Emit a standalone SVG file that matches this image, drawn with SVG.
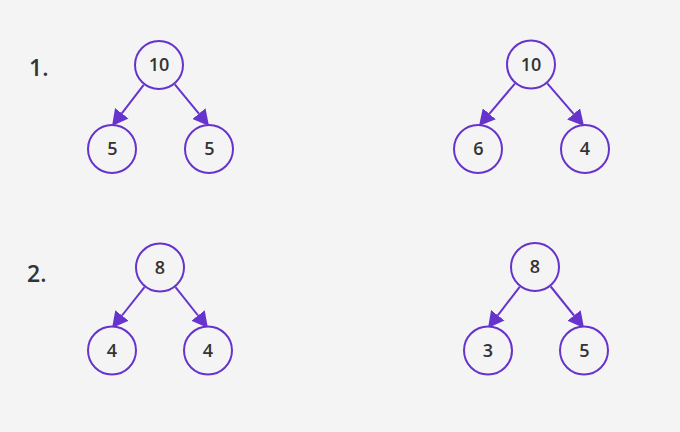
<svg xmlns="http://www.w3.org/2000/svg" width="680" height="432" viewBox="0 0 680 432">
<style>
.node circle{fill:#f4f4f4;stroke:#6633cc;stroke-width:2}
.node text{font-family:"Open Sans","Liberation Sans",sans-serif;font-weight:600;font-size:18px;fill:#333;text-anchor:middle}
.lbl{font-family:"Open Sans","Liberation Sans",sans-serif;font-weight:600;font-size:23px;fill:#333}
.edge{stroke:#6633cc;stroke-width:2;fill:none;marker-end:url(#ah)}
</style>
<defs>
<marker id="ah" markerUnits="userSpaceOnUse" viewBox="0 -8.5 16 17" refX="0" refY="0" markerWidth="16" markerHeight="17" orient="auto">
<path d="M0,-8.5 L16,0 L0,8.5 z" fill="#6633cc"/>
</marker>
</defs>
<rect width="680" height="432" fill="#f4f4f4"/>
<text class="lbl" x="29" y="76">1.</text>
<text class="lbl" x="27" y="281.5">2.</text>
<g id="connectors">
<line class="edge" x1="143.7" y1="84.8" x2="121.8" y2="113.3"/>
<line class="edge" x1="174.8" y1="84.3" x2="198.9" y2="113.6"/>
<line class="edge" x1="514.9" y1="83.6" x2="489.3" y2="113.8"/>
<line class="edge" x1="547.3" y1="83.4" x2="573.6" y2="113.9"/>
<line class="edge" x1="144.5" y1="287.1" x2="122" y2="315.5"/>
<line class="edge" x1="175.5" y1="287.1" x2="198" y2="315.5"/>
<line class="edge" x1="519.7" y1="286.8" x2="497.8" y2="315.3"/>
<line class="edge" x1="550.7" y1="286.5" x2="574" y2="315.5"/>
</g>
<g id="a-root" class="node"><circle cx="159" cy="65" r="24"/><text x="159" y="71">10</text></g>
<g id="a-left" class="node"><circle cx="112" cy="149" r="24"/><text x="112.5" y="154.5">5</text></g>
<g id="a-right" class="node"><circle cx="209" cy="149" r="24"/><text x="209.5" y="154.5">5</text></g>
<g id="b-root" class="node"><circle cx="531" cy="64.5" r="24"/><text x="531" y="70.5">10</text></g>
<g id="b-left" class="node"><circle cx="478" cy="149" r="24"/><text x="478.5" y="154.5">6</text></g>
<g id="b-right" class="node"><circle cx="585" cy="149" r="24"/><text x="585" y="154.5">4</text></g>
<g id="c-root" class="node"><circle cx="160" cy="267.5" r="24"/><text x="160" y="273.5">8</text></g>
<g id="c-left" class="node"><circle cx="112" cy="350.5" r="24"/><text x="112" y="356.5">4</text></g>
<g id="c-right" class="node"><circle cx="208" cy="350.5" r="24"/><text x="208" y="356.5">4</text></g>
<g id="d-root" class="node"><circle cx="535" cy="267" r="24"/><text x="535" y="273">8</text></g>
<g id="d-left" class="node"><circle cx="488" cy="350.5" r="24"/><text x="488" y="356.5">3</text></g>
<g id="d-right" class="node"><circle cx="584" cy="350.5" r="24"/><text x="584.5" y="356.5">5</text></g>
</svg>
